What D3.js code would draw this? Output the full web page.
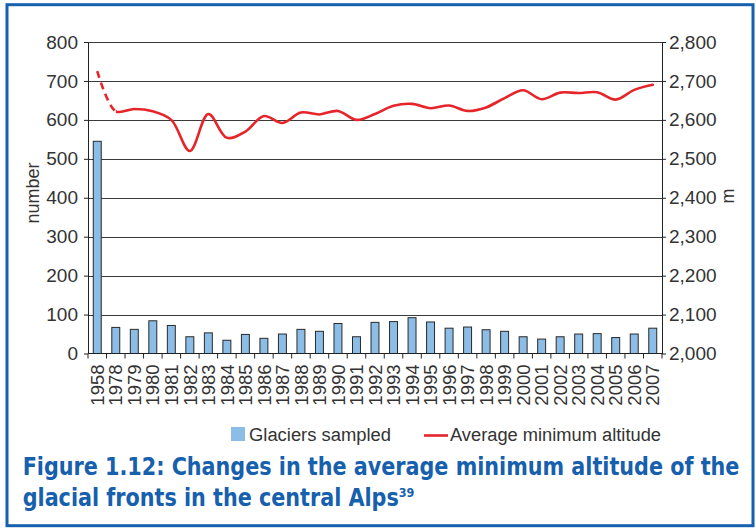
<!DOCTYPE html>
<html>
<head>
<meta charset="utf-8">
<script src="https://cdn.jsdelivr.net/npm/d3@7"></script>
<style>
  body { margin: 0; background: #fff; }
  svg { display: block; }
  .tick text { font-family: "Liberation Sans", Arial, sans-serif; fill: #333; }
</style>
</head>
<body>
<svg width="756" height="528"></svg>
<script>
// categories (first point is 1958, then yearly from 1978)
var years = ['1958','1978','1979','1980','1981','1982','1983','1984','1985','1986','1987',
             '1988','1989','1990','1991','1992','1993','1994','1995','1996','1997',
             '1998','1999','2000','2001','2002','2003','2004','2005','2006','2007'];

// glaciers sampled (left axis, number)
var sampled = [545, 67, 62, 84, 72, 43, 53, 34, 49, 39, 50,
               62, 57, 77, 43, 80, 82, 92, 81, 65, 68,
               61, 57, 43, 37, 43, 50, 51, 41, 50, 65];

// average minimum altitude (right axis, m)
var altitude = [2725, 2622, 2628, 2622, 2600, 2520, 2615, 2554, 2570, 2610, 2592,
                2619, 2614, 2623, 2600, 2615, 2636, 2641, 2630, 2637, 2623,
                2632, 2656, 2676, 2653, 2670, 2669, 2671, 2652, 2677, 2690];

var leftTicks = [0, 100, 200, 300, 400, 500, 600, 700, 800];
var rightTicks = [2000, 2100, 2200, 2300, 2400, 2500, 2600, 2700, 2800];

var titleLines = ['Figure 1.12: Changes in the average minimum altitude of the',
                  'glacial fronts in the central Alps'];
var titleNote = '39';

var svg = d3.select('svg');
var blue = '#1660ad';

// frame
svg.append('rect')
   .attr('x', 7).attr('y', 4.7)
   .attr('width', 746).attr('height', 521)
   .attr('fill', 'none')
   .attr('stroke', blue)
   .attr('stroke-width', 3);

var plotLeft = 88, plotRight = 662, plotTop = 42, plotBottom = 353.5;

var x = d3.scaleBand().domain(years).range([plotLeft, plotRight])
          .paddingInner(0.57).paddingOuter(0.285);
var yL = d3.scaleLinear().domain([0, 800]).range([plotBottom, plotTop]);
var yR = d3.scaleLinear().domain([2000, 2800]).range([plotBottom, plotTop]);

// gridlines
svg.append('g').selectAll('line')
   .data(leftTicks.slice(1))
   .enter().append('line')
   .attr('x1', plotLeft).attr('x2', plotRight)
   .attr('y1', function(d){ return Math.round(yL(d)) + 0.5; })
   .attr('y2', function(d){ return Math.round(yL(d)) + 0.5; })
   .attr('stroke', '#3a3a3a')
   .attr('stroke-width', 1);

// bars
svg.append('g').selectAll('rect')
   .data(sampled)
   .enter().append('rect')
   .attr('x', function(d, i){ return x(years[i]); })
   .attr('y', function(d){ return yL(d); })
   .attr('width', x.bandwidth())
   .attr('height', function(d){ return yL(0) - yL(d); })
   .attr('fill', '#8bbde6')
   .attr('stroke', '#2a2a2a')
   .attr('stroke-width', 1);

// left axis
var gL = svg.append('g')
   .attr('transform', 'translate(' + plotLeft + ',0)')
   .call(d3.axisLeft(yL).tickValues(leftTicks).tickSize(4).tickSizeOuter(0).tickPadding(6));
gL.select('.domain').attr('stroke', '#222');
gL.selectAll('.tick line').attr('stroke', '#222');
gL.selectAll('.tick text').style('font-size', '19px');

// right axis
var gR = svg.append('g')
   .attr('transform', 'translate(' + plotRight + ',0)')
   .call(d3.axisRight(yR).tickValues(rightTicks).tickFormat(d3.format(','))
          .tickSize(4).tickSizeOuter(0).tickPadding(3));
gR.select('.domain').attr('stroke', '#222');
gR.selectAll('.tick line').attr('stroke', '#222');
gR.selectAll('.tick text').style('font-size', '19px');

// x axis
var gX = svg.append('g').attr('transform', 'translate(0,' + plotBottom + ')');
gX.append('line')
  .attr('x1', plotLeft).attr('x2', plotRight)
  .attr('stroke', '#222');
gX.selectAll('line.bnd')
  .data(d3.range(years.length + 1))
  .enter().append('line')
  .attr('class', 'bnd')
  .attr('x1', function(i){ return plotLeft + i * x.step(); })
  .attr('x2', function(i){ return plotLeft + i * x.step(); })
  .attr('y1', 0).attr('y2', 5)
  .attr('stroke', '#222');
gX.selectAll('text')
  .data(years)
  .enter().append('text')
  .attr('transform', function(d){
    return 'translate(' + (x(d) + x.bandwidth() / 2) + ',11) rotate(-90)';
  })
  .attr('dy', '0.36em')
  .attr('text-anchor', 'end')
  .style('font-family', '"Liberation Sans", Arial, sans-serif')
  .style('font-size', '18.5px')
  .attr('fill', '#333')
  .text(function(d){ return d; });

// line (first segment dashed)
var pts = altitude.map(function(v, i){ return [x(years[i]) + x.bandwidth() / 2, yR(v)]; });
var lineGen = d3.line().curve(d3.curveCatmullRom.alpha(0.5));
var splitX = pts[1][0];

var defs = svg.append('defs');
defs.append('clipPath').attr('id', 'clipA')
    .append('rect').attr('x', 0).attr('y', 0).attr('width', splitX).attr('height', 528);
defs.append('clipPath').attr('id', 'clipB')
    .append('rect').attr('x', splitX).attr('y', 0).attr('width', 756 - splitX).attr('height', 528);

svg.append('path')
   .attr('d', lineGen(pts))
   .attr('clip-path', 'url(#clipA)')
   .attr('fill', 'none')
   .attr('stroke', '#e6252b')
   .attr('stroke-width', 2.6)
   .attr('stroke-dasharray', '7,5');
svg.append('path')
   .attr('d', lineGen(pts))
   .attr('clip-path', 'url(#clipB)')
   .attr('fill', 'none')
   .attr('stroke', '#e6252b')
   .attr('stroke-width', 2.6)
   .attr('stroke-linecap', 'round');

// axis titles
svg.append('text')
   .attr('transform', 'translate(39,193) rotate(-90)')
   .attr('text-anchor', 'middle')
   .style('font-family', '"Liberation Sans", Arial, sans-serif')
   .style('font-size', '18px')
   .attr('fill', '#333')
   .text('number');
svg.append('text')
   .attr('transform', 'translate(734,196) rotate(-90)')
   .attr('text-anchor', 'middle')
   .style('font-family', '"Liberation Sans", Arial, sans-serif')
   .style('font-size', '18px')
   .attr('fill', '#333')
   .text('m');

// legend
var lg = svg.append('g');
lg.append('rect')
  .attr('x', 231).attr('y', 427).attr('width', 14).attr('height', 14)
  .attr('fill', '#8bbde6');
lg.append('text')
  .attr('x', 249).attr('y', 441)
  .style('font-family', '"Liberation Sans", Arial, sans-serif')
  .style('font-size', '18px')
  .attr('fill', '#333')
  .attr('textLength', 142).attr('lengthAdjust', 'spacingAndGlyphs')
  .text('Glaciers sampled');
lg.append('line')
  .attr('x1', 424).attr('x2', 448).attr('y1', 435.5).attr('y2', 435.5)
  .attr('stroke', '#e6252b').attr('stroke-width', 2.6);
lg.append('text')
  .attr('x', 450).attr('y', 441)
  .style('font-family', '"Liberation Sans", Arial, sans-serif')
  .style('font-size', '18px')
  .attr('fill', '#333')
  .attr('textLength', 211).attr('lengthAdjust', 'spacingAndGlyphs')
  .text('Average minimum altitude');

// figure title, condensed to the width of the original
var tg = svg.append('g');
var t1 = tg.append('text')
   .attr('x', 0).attr('y', 475)
   .style('font-family', '"Liberation Sans Narrow", "DejaVu Sans Condensed", "Roboto", sans-serif')
   .style('font-weight', 'bold')
   .style('font-size', '24px')
   .attr('fill', blue)
   .text(titleLines[0]);
var t2 = tg.append('text')
   .attr('x', 0).attr('y', 506.5)
   .style('font-family', '"Liberation Sans Narrow", "DejaVu Sans Condensed", "Roboto", sans-serif')
   .style('font-weight', 'bold')
   .style('font-size', '24px')
   .attr('fill', blue)
   .text(titleLines[1]);
t2.append('tspan')
  .attr('dy', -9)
  .style('font-size', '13px')
  .text(titleNote);
var sx = 717 / t1.node().getComputedTextLength();
tg.attr('transform', 'translate(22.7,0) scale(' + sx + ',1)');
</script>
</body>
</html>
